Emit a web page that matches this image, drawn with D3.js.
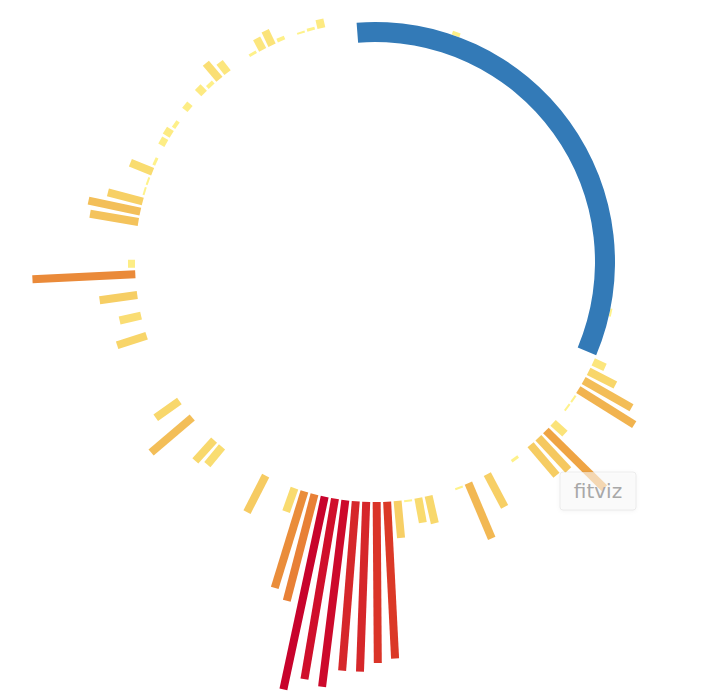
<!DOCTYPE html>
<html>
<head>
<meta charset="utf-8">
<script src="https://cdn.jsdelivr.net/npm/d3@7"></script>
<style>
  html, body { margin: 0; padding: 0; background: #ffffff; }
  svg { display: block; }
</style>
</head>
<body>
<svg id="chart" width="718" height="700"></svg>
<script>
// 10-minute bins of one day (144 bins)
const categories = d3.range(144).map(i =>
  d3.format("02")(Math.floor(i / 6)) + ":" + d3.format("02")((i % 6) * 10));

// activity per 10-minute bin
const values = [
  0, 0, 0, 0, 0, 0, 0, 0, 4, 0,      // 0-9
  0, 0, 0, 0, 0, 0, 0, 0, 0, 0,      // 10-19
  0, 0, 0, 0, 0, 0, 0, 0, 0, 0,      // 20-29
  0, 0, 0, 0, 0, 0, 0, 0, 0, 0,      // 30-39
  0, 2, 0, 0, 0, 0, 13, 30, 55, 66,  // 40-49
  2, 2, 0, 16, 82, 44, 40, 0, 3, 0,  // 50-59
  0, 37, 0, 60, 2, 0, 0, 28, 25, 2,  // 60-69
  37, 157, 161, 170, 170, 188, 183, 197, 110, 101, // 70-79
  25, 0, 0, 41, 0, 0, 0, 0, 23, 28,  // 80-89
  0, 0, 54, 0, 29, 0, 0, 0, 0, 0,    // 90-99
  0, 31, 0, 22, 0, 38, 0, 103, 7, 0, // 100-109
  0, 0, 49, 53, 36, 2, 2, 24, 3, 0,  // 110-119
  7, 8, 4, 0, 7, 0, 9, 4, 21, 13,    // 120-129
  0, 0, 3, 13, 16, 4, 0, 2, 3, 9,    // 130-139
  0, 0, 0, 0                         // 140-143
];

// sleep period (shown as the blue arc)
const sleepStart = "23:49";
const sleepEnd = "07:38";

const W = 718, H = 700;
const cx = 375, cy = 262;
const innerR = 240;
const arcInner = 220;
const barWidth = 8;
const offset = -1.65 * Math.PI / 180;

const svg = d3.select("#chart");
const g = svg.append("g").attr("transform", `translate(${cx},${cy})`);

const x = d3.scaleBand()
  .domain(categories)
  .range([offset, offset + 2 * Math.PI]);

const len = d3.scaleLinear().domain([0, 200]).range([0, 200]);

const color = d3.scaleLinear()
  .domain([0, 15, 30, 55, 82, 105, 155, 170, 185, 197])
  .range(["#fff48e", "#fbe47a", "#f8d66a", "#f3bd57", "#efa443", "#e98838",
          "#dc3c27", "#d6272a", "#cf0b2b", "#c8032c"]);

const timeAngle = d3.scaleLinear().domain([0, 1440]).range([offset, offset + 2 * Math.PI]);
const toMin = s => { const [h, m] = s.split(":").map(Number); return h * 60 + m; };

const data = categories.map((c, i) => ({ cat: c, v: values[i] })).filter(d => d.v > 0);

g.selectAll("rect.bar")
  .data(data)
  .join("rect")
  .attr("class", "bar")
  .attr("x", -barWidth / 2)
  .attr("y", d => -(innerR + len(d.v)))
  .attr("width", barWidth)
  .attr("height", d => len(d.v))
  .attr("fill", d => color(d.v))
  .attr("transform", d => `rotate(${(x(d.cat) + x.bandwidth() / 2) * 180 / Math.PI})`);

let s = toMin(sleepStart), e = toMin(sleepEnd);
if (s > e) s -= 1440;
const arc = d3.arc().innerRadius(arcInner).outerRadius(innerR);
g.append("path")
  .attr("d", arc({ startAngle: timeAngle(s), endAngle: timeAngle(e) }))
  .attr("fill", "#337ab7");

// watermark tooltip
const defs = svg.append("defs");
const f = defs.append("filter").attr("id", "sh").attr("x", "-20%").attr("y", "-20%").attr("width", "140%").attr("height", "140%");
f.append("feDropShadow").attr("dx", 0).attr("dy", 1).attr("stdDeviation", 2).attr("flood-color", "#000").attr("flood-opacity", 0.08);

const tip = svg.append("g").attr("transform", "translate(560,472)");
tip.append("rect")
  .attr("width", 76).attr("height", 38).attr("rx", 3)
  .attr("fill", "rgba(250,250,250,0.6)")
  .attr("stroke", "rgba(0,0,0,0.06)")
  .attr("filter", "url(#sh)");
tip.append("text")
  .attr("x", 38).attr("y", 26)
  .attr("text-anchor", "middle")
  .attr("font-family", "DejaVu Sans, sans-serif")
  .attr("font-size", 20)
  .attr("fill", "#a8a8a8")
  .text("fitviz");
</script>
</body>
</html>
